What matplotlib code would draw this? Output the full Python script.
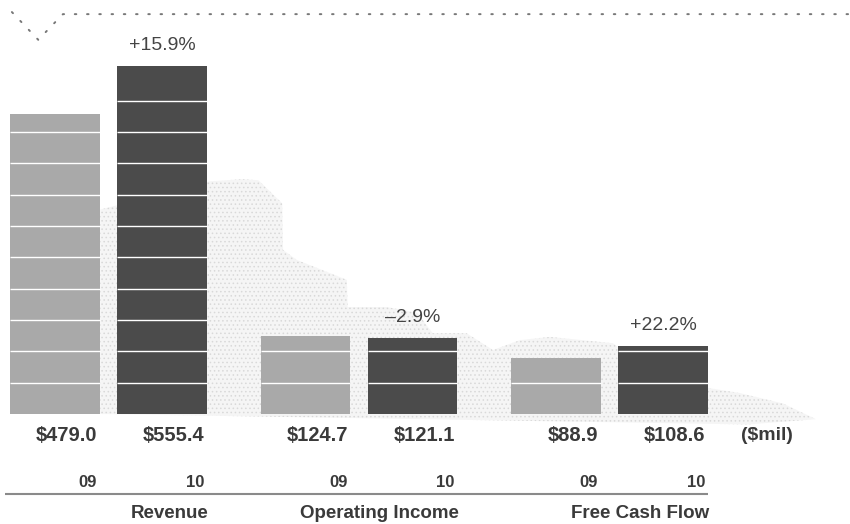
import numpy as np
import matplotlib.pyplot as plt
from matplotlib.patches import Polygon

# Data ($mil)
groups = ['Revenue', 'Operating Income', 'Free Cash Flow']
years = ['09', '10']
values_09 = [479.0, 124.7, 88.9]
values_10 = [555.4, 121.1, 108.6]
changes = ['+15.9%', '\u20132.9%', '+22.2%']
grid_step = 50

plt.rcParams['font.family'] = ['Liberation Sans', 'DejaVu Sans']
plt.rcParams['hatch.linewidth'] = 0.6

light = '#a9a9a9'
dark = '#4b4b4b'
txt = '#3a3a3a'

fig = plt.figure(figsize=(8.5, 5.24), dpi=100)
ax = fig.add_axes([0, 0, 1, 1])
ax.axis('off')
ax.set_xlim(-0.433, 2.960)
ax.set_ylim(-175.4, 660.3)

x = np.arange(len(groups))
offset = 0.2135
width = 0.359

# stippled background shape (decoration), in axes fraction coords
bg = [(0.118, 0.21), (0.118, 0.60), (0.247, 0.654), (0.285, 0.658), (0.304, 0.656),
      (0.332, 0.612), (0.333, 0.523), (0.349, 0.504), (0.408, 0.466), (0.409, 0.414),
      (0.455, 0.414), (0.491, 0.403), (0.509, 0.364), (0.549, 0.364), (0.580, 0.332),
      (0.612, 0.351), (0.647, 0.357), (0.721, 0.345), (0.753, 0.307), (0.797, 0.269),
      (0.870, 0.250), (0.921, 0.230), (0.960, 0.200), (0.880, 0.190), (0.118, 0.21)]
ax.add_patch(Polygon(bg, closed=True, transform=ax.transAxes, facecolor='#f5f5f5',
                     edgecolor='#d9d9d9', hatch='....', lw=0, zorder=0))

b1 = ax.bar(x - offset, values_09, width, color=light, zorder=2)
b2 = ax.bar(x + offset, values_10, width, color=dark, zorder=2)

# white rules inside the bars
for bars in (b1, b2):
    for r in bars:
        h = r.get_height()
        ys = np.arange(grid_step, h - 6, grid_step)
        ax.hlines(ys, r.get_x(), r.get_x() + r.get_width(), color='white', lw=1, zorder=3)

# labels
for i in range(len(groups)):
    r09 = b1[i].get_x() + width
    r10 = b2[i].get_x() + width
    ax.text(r09 - 0.01, -33.5, f'${values_09[i]:.1f}', ha='right', va='center',
            fontsize=14.5, fontweight='bold', color=txt)
    ax.text(r10 - 0.01, -33.5, f'${values_10[i]:.1f}', ha='right', va='center',
            fontsize=14.5, fontweight='bold', color=txt)
    ax.text(r09 - 0.012, -108.5, years[0], ha='right', va='center',
            fontsize=12, fontweight='bold', color=txt)
    ax.text(r10 - 0.012, -108.5, years[1], ha='right', va='center',
            fontsize=12, fontweight='bold', color=txt)
    ax.text(r10 + 0.005, -158, groups[i], ha='right', va='center',
            fontsize=13.5, fontweight='bold', color=txt)
    ax.text(x[i] + offset, values_10[i] + 33, changes[i], ha='center', va='center',
            fontsize=14, color='#444444')

ax.text(2.63, -33.5, '($mil)', ha='center', va='center', fontsize=14,
        fontweight='bold', color=txt)

# rule under the year labels
ax.plot([-0.413, b2[-1].get_x() + width], [-127.6, -127.6], color='#8a8a8a', lw=1.5,
        solid_capstyle='butt')

# dotted header line with notch
ax.plot([0.014, 0.045, 0.074, 1.0], [0.977, 0.924, 0.973, 0.973], transform=ax.transAxes,
        color='#777777', lw=1.4, linestyle=(0, (0.8, 5.5)), dash_capstyle='round')

fig.savefig('out.png', dpi=100)
